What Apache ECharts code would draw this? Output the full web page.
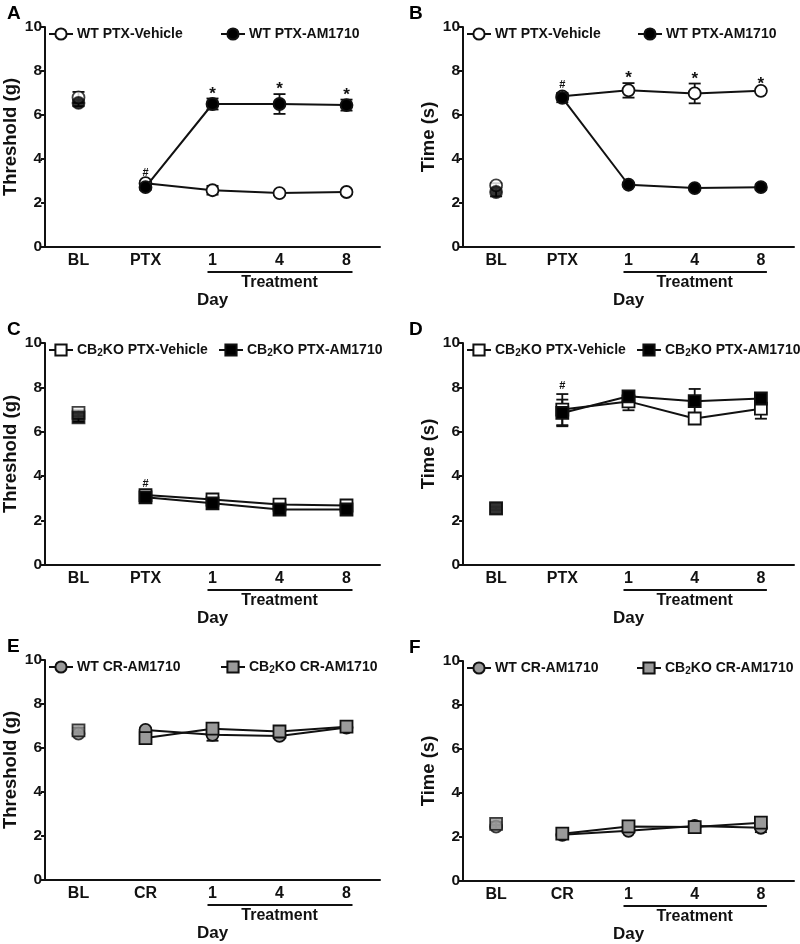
<!DOCTYPE html>
<html>
<head>
<meta charset="utf-8">
<script src="https://cdn.jsdelivr.net/npm/echarts@6/dist/echarts.min.js"></script>
<style>
html,body{margin:0;padding:0;background:#fff;}
#c{width:800px;height:944px;}
</style>
</head>
<body>
<div id="c"></div>
<script>
// ---------- DATA ----------
const catsPTX = ['BL', 'PTX', '1', '4', '8'];
const catsCR  = ['BL', 'CR', '1', '4', '8'];
const yTicks = [0, 2, 4, 6, 8, 10];

// Panel A: Threshold (g)
const aVehicle    = [6.80, 2.90, 2.58, 2.45, 2.50];
const aVehicleErr = [0.25, 0.10, 0.20, 0.08, 0.08];
const aDrug       = [6.55, 2.72, 6.50, 6.50, 6.45];
const aDrugErr    = [0.15, 0.12, 0.25, 0.45, 0.25];
const aMarks      = ['', '#', '*', '*', '*'];

// Panel B: Time (s)
const bVehicle    = [2.80, 6.85, 7.12, 6.98, 7.10];
const bVehicleErr = [0.10, 0.15, 0.33, 0.45, 0.08];
const bDrug       = [2.50, 6.78, 2.83, 2.68, 2.72];
const bDrugErr    = [0.20, 0.20, 0.08, 0.08, 0.12];
const bMarks      = ['', '#', '*', '*', '*'];

// Panel C: Threshold (g)
const cVehicle    = [6.85, 3.15, 2.95, 2.72, 2.68];
const cVehicleErr = [0.15, 0.10, 0.10, 0.08, 0.08];
const cDrug       = [6.65, 3.05, 2.78, 2.50, 2.50];
const cDrugErr    = [0.20, 0.15, 0.15, 0.08, 0.08];
const cMarks      = ['', '#', '', '', ''];

// Panel D: Time (s)
const dVehicle    = [2.55, 7.00, 7.37, 6.60, 7.04];
const dVehicleErr = [0.05, 0.70, 0.40, 0.20, 0.45];
const dDrug       = [2.55, 6.85, 7.60, 7.38, 7.50];
const dDrugErr    = [0.08, 0.60, 0.15, 0.55, 0.20];
const dMarks      = ['', '#', '', '', ''];

// Panel E: Threshold (g)
const eWT     = [6.65, 6.82, 6.60, 6.55, 6.93];
const eWTErr  = [0.10, 0.10, 0.27, 0.10, 0.08];
const eKO     = [6.80, 6.45, 6.88, 6.75, 6.97];
const eKOErr  = [0.12, 0.10, 0.20, 0.12, 0.08];
const eMarks  = ['', '', '', '', ''];

// Panel F: Time (s)
const fWT     = [2.47, 2.10, 2.28, 2.50, 2.42];
const fWTErr  = [0.08, 0.08, 0.08, 0.08, 0.20];
const fKO     = [2.60, 2.15, 2.48, 2.45, 2.65];
const fKOErr  = [0.08, 0.08, 0.10, 0.08, 0.10];
const fMarks  = ['', '', '', '', ''];

// ---------- STYLE / LAYOUT ----------
const FONT = '"Liberation Sans", Arial, Helvetica, sans-serif';
const GREY = '#9a9a9a';

const panels = [
  {letter:'A', cats:catsPTX, yName:'Threshold (g)', grid:{left:45, top:27, width:335, height:220},
   s:[{name:'WT PTX-Vehicle', v:aVehicle, e:aVehicleErr, sym:'circle', fill:'#fff'},
      {name:'WT PTX-AM1710', v:aDrug, e:aDrugErr, sym:'circle', fill:'#000'}],
   marks:aMarks, legLeft:[48, 220]},
  {letter:'B', cats:catsPTX, yName:'Time (s)', grid:{left:463, top:27, width:331, height:220},
   s:[{name:'WT PTX-Vehicle', v:bVehicle, e:bVehicleErr, sym:'circle', fill:'#fff'},
      {name:'WT PTX-AM1710', v:bDrug, e:bDrugErr, sym:'circle', fill:'#000'}],
   marks:bMarks, legLeft:[466, 637]},
  {letter:'C', cats:catsPTX, yName:'Threshold (g)', grid:{left:45, top:343, width:335, height:222},
   s:[{name:'CB2KO PTX-Vehicle', v:cVehicle, e:cVehicleErr, sym:'rect', fill:'#fff'},
      {name:'CB2KO PTX-AM1710', v:cDrug, e:cDrugErr, sym:'rect', fill:'#000'}],
   marks:cMarks, legLeft:[48, 218]},
  {letter:'D', cats:catsPTX, yName:'Time (s)', grid:{left:463, top:343, width:331, height:222},
   s:[{name:'CB2KO PTX-Vehicle', v:dVehicle, e:dVehicleErr, sym:'rect', fill:'#fff'},
      {name:'CB2KO PTX-AM1710', v:dDrug, e:dDrugErr, sym:'rect', fill:'#000'}],
   marks:dMarks, legLeft:[466, 636]},
  {letter:'E', cats:catsCR, yName:'Threshold (g)', grid:{left:45, top:660, width:335, height:220},
   s:[{name:'WT CR-AM1710', v:eWT, e:eWTErr, sym:'circle', fill:GREY},
      {name:'CB2KO CR-AM1710', v:eKO, e:eKOErr, sym:'rect', fill:GREY}],
   marks:eMarks, legLeft:[48, 220]},
  {letter:'F', cats:catsCR, yName:'Time (s)', grid:{left:463, top:661, width:331, height:220},
   s:[{name:'WT CR-AM1710', v:fWT, e:fWTErr, sym:'circle', fill:GREY},
      {name:'CB2KO CR-AM1710', v:fKO, e:fKOErr, sym:'rect', fill:GREY}],
   marks:fMarks, legLeft:[466, 636]}
];

const grids = [], xAxes = [], yAxes = [], series = [], legends = [], titles = [];

panels.forEach(function (p, i) {
  grids.push(Object.assign({containLabel:false, outerBoundsMode:'none'}, p.grid));
  xAxes.push({
    type:'category', gridIndex:i, data:p.cats, boundaryGap:true,
    name:'Day', nameLocation:'middle', nameGap:45,
    nameTextStyle:{fontFamily:FONT, fontWeight:'bold', fontSize:17, color:'#111'},
    axisLine:{lineStyle:{color:'#111', width:2}},
    axisTick:{alignWithLabel:true, length:4, lineStyle:{color:'#111', width:2}},
    axisLabel:{fontFamily:FONT, fontWeight:'bold', fontSize:16, color:'#111', margin:6},
    splitLine:{show:false}
  });
  yAxes.push({
    type:'value', gridIndex:i, min:yTicks[0], max:yTicks[yTicks.length-1], interval:yTicks[1]-yTicks[0],
    name:p.yName, nameLocation:'middle', nameGap:25, nameRotate:90,
    nameTextStyle:{fontFamily:FONT, fontWeight:'bold', fontSize:18.5, color:'#111'},
    axisLine:{show:true, lineStyle:{color:'#111', width:2}},
    axisTick:{show:true, length:4, lineStyle:{color:'#111', width:2}},
    axisLabel:{fontFamily:FONT, fontWeight:'bold', fontSize:15.5, color:'#111', margin:3},
    splitLine:{show:false}
  });
  titles.push({
    text:p.letter, left:p.grid.left < 200 ? 2 : 404, top:p.grid.top - 28,
    textStyle:{fontFamily:FONT, fontWeight:'bold', fontSize:19, color:'#000'}
  });

  // error bars
  p.s.forEach(function (s, k) {
    series.push({
      type:'custom', xAxisIndex:i, yAxisIndex:i, z:1, silent:true,
      data:s.v.map(function (v, j) { return [j, v, s.e[j]]; }),
      renderItem:function (params, api) {
        const x = api.value(0), v = api.value(1), e = api.value(2);
        const top = api.coord([x, v + e]);
        const bot = api.coord([x, v - e]);
        const cw = 6;
        const st = {stroke:'#111', lineWidth:1.8};
        return {type:'group', children:[
          {type:'line', shape:{x1:top[0], y1:top[1], x2:bot[0], y2:bot[1]}, style:st},
          {type:'line', shape:{x1:top[0]-cw, y1:top[1], x2:top[0]+cw, y2:top[1]}, style:st},
          {type:'line', shape:{x1:bot[0]-cw, y1:bot[1], x2:bot[0]+cw, y2:bot[1]}, style:st}
        ]};
      }
    });
  });

  // lines (BL not connected)
  p.s.forEach(function (s, k) {
    const mk = {color:s.fill, borderColor:'#111', borderWidth:1.8};
    series.push({
      type:'line', name:s.name, xAxisIndex:i, yAxisIndex:i, z:2 + k,
      data:s.v.map(function (v, j) { return j === 0 ? '-' : v; }),
      symbol:s.sym, symbolSize:12, showAllSymbol:true,
      itemStyle:mk, lineStyle:{color:'#111', width:2},
      emphasis:{disabled:true}, animation:false
    });
    series.push({
      type:'scatter', name:s.name + ' BL', xAxisIndex:i, yAxisIndex:i, z:2 + k,
      data:[[0, s.v[0]]], symbol:s.sym, symbolSize:12,
      itemStyle:mk, emphasis:{disabled:true}, animation:false
    });
  });

  // significance marks
  const tops = p.cats.map(function (c, j) {
    return Math.max.apply(null, p.s.map(function (s) { return s.v[j] + s.e[j]; }));
  });
  series.push({
    type:'custom', xAxisIndex:i, yAxisIndex:i, z:5, silent:true,
    data:tops.map(function (t, j) { return [j, t]; }),
    renderItem:function (params, api) {
      const j = api.value(0);
      const txt = p.marks[j];
      if (!txt) return null;
      const pt = api.coord([j, api.value(1)]);
      return {type:'text', style:{
        text:txt, x:pt[0], y:pt[1] + (txt === '*' ? 4 : -3), align:'center', verticalAlign:'bottom',
        fontFamily:FONT, fontWeight:'bold', fontSize:txt === '*' ? 17 : 11, fill:'#111'
      }};
    }
  });

  // legends (one per item)
  p.s.forEach(function (s, k) {
    legends.push({
      data:[s.name], left:p.legLeft[k], top:p.grid.top, padding:0,
      itemWidth:24, itemHeight:14, itemGap:4, selectedMode:false,
      formatter:function (name) {
        return name.indexOf('CB2KO') === 0 ? '{n|CB}{s|2}{n|KO' + name.slice(5) + '}' : name;
      },
      textStyle:{fontFamily:FONT, fontWeight:'bold', fontSize:14, color:'#111', padding:[0,0,0,-1],
        rich:{
          n:{fontFamily:FONT, fontWeight:'bold', fontSize:14, color:'#111'},
          s:{fontFamily:FONT, fontWeight:'bold', fontSize:10, color:'#111', verticalAlign:'bottom', padding:[6,0,0,0]}
        }}
    });
  });
});

const chart = echarts.init(document.getElementById('c'), null, {renderer:'canvas'});
chart.setOption({
  backgroundColor:'#fff', animation:false,
  title:titles, grid:grids, xAxis:xAxes, yAxis:yAxes, legend:legends, series:series
});

// "Treatment" bracket under days 1..8, positioned with the axis scale
const graphics = [];
panels.forEach(function (p, i) {
  const c1 = chart.convertToPixel({xAxisIndex:i, yAxisIndex:i}, ['1', 0]);
  const c8 = chart.convertToPixel({xAxisIndex:i, yAxisIndex:i}, ['8', 0]);
  const y = c1[1] + 25;
  graphics.push({type:'line', shape:{x1:c1[0] - 5, y1:y, x2:c8[0] + 6, y2:y},
    style:{stroke:'#111', lineWidth:2}, silent:true});
  graphics.push({type:'text', x:(c1[0] + c8[0]) / 2, y:y + 3,
    style:{text:'Treatment', align:'center', verticalAlign:'top', fontFamily:FONT, fontWeight:'bold', fontSize:16, fill:'#111'},
    silent:true});
});
chart.setOption({graphic:graphics});
</script>
</body>
</html>
